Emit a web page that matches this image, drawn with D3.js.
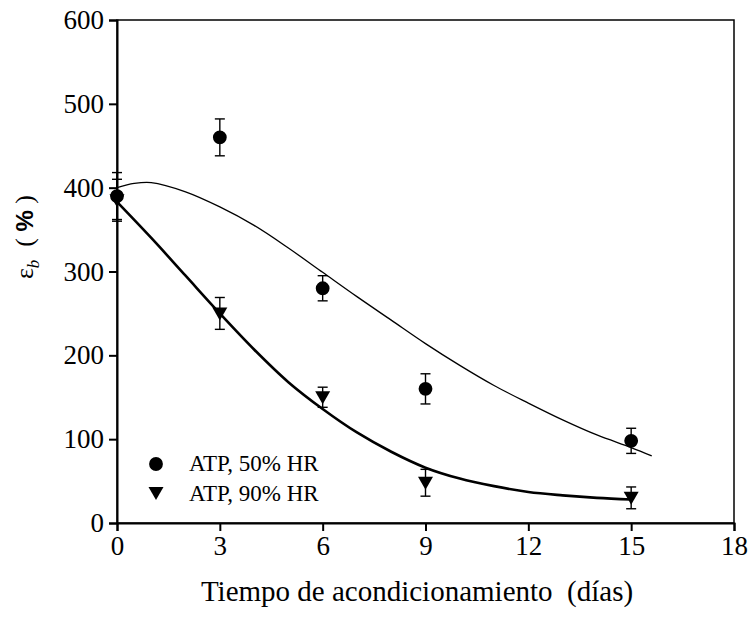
<!DOCTYPE html>
<html>
<head>
<meta charset="utf-8">
<script src="https://cdn.jsdelivr.net/npm/d3@7"></script>
<style>
  body { margin: 0; background: #fff; }
  svg text { font-family: "Liberation Serif", "DejaVu Serif", serif; }
</style>
</head>
<body>
<script>
// Datos
const dias = [0, 3, 6, 9, 15];
const hr50 = [390, 460, 280, 160, 98];
const hr50err = [28, 22, 15, 18, 15];
const hr90 = [385, 250, 150, 48, 30];
const hr90err = [25, 19, 12, 16, 13];

// curvas de ajuste (puntos leídos)
const ajuste50x = [0, 0.5, 1, 2, 3, 4, 5, 6, 7, 8, 9, 10, 11, 12, 13, 14, 15, 15.6];
const ajuste50y = [400, 405, 406, 395, 377, 355, 328, 299, 270, 242, 214, 188, 164, 143, 123, 105, 90, 80];
const ajuste90x = [0, 1, 2, 3, 4, 5, 6, 7, 8, 9, 10, 11, 12, 13, 14, 15];
const ajuste90y = [383, 340, 295, 250, 207, 168, 136, 108, 85, 66, 53, 44, 37, 33, 30, 28];

const xTicks = [0, 3, 6, 9, 12, 15, 18];
const yTicks = [0, 100, 200, 300, 400, 500, 600];
const leyenda = ["ATP, 50% HR", "ATP, 90% HR"];

const width = 752, height = 619;
const margin = {top: 20, right: 18, bottom: 96, left: 117};
const serif = "'Liberation Serif', 'DejaVu Serif', serif";

const svg = d3.select("body").append("svg")
    .attr("width", width).attr("height", height);

const x = d3.scaleLinear().domain([0, 18]).range([margin.left, width - margin.right]);
const y = d3.scaleLinear().domain([0, 600]).range([height - margin.bottom, margin.top]);

// marco
svg.append("rect")
    .attr("x", x(0)).attr("y", y(600))
    .attr("width", x(18) - x(0)).attr("height", y(0) - y(600))
    .attr("fill", "none").attr("stroke", "#000").attr("stroke-width", 1.5);

const xAxis = svg.append("g")
    .attr("transform", "translate(0," + y(0) + ")")
    .call(d3.axisBottom(x).tickValues(xTicks).tickSize(8).tickPadding(5));
const yAxis = svg.append("g")
    .attr("transform", "translate(" + x(0) + ",0)")
    .call(d3.axisLeft(y).tickValues(yTicks).tickSize(8).tickPadding(5));

[xAxis, yAxis].forEach(a => {
    a.attr("font-family", serif).attr("font-size", 27);
    a.select(".domain").attr("stroke-width", 2);
    a.selectAll(".tick line").attr("stroke-width", 2);
    a.selectAll("text")
        .attr("font-family", serif).attr("font-size", 27)
        .attr("fill", "#000");
});

// curvas
const linea = d3.line().x(d => x(d[0])).y(d => y(d[1])).curve(d3.curveCatmullRom);
svg.append("path")
    .attr("d", linea(d3.zip(ajuste50x, ajuste50y)))
    .attr("fill", "none").attr("stroke", "#000").attr("stroke-width", 1.3);
svg.append("path")
    .attr("d", linea(d3.zip(ajuste90x, ajuste90y)))
    .attr("fill", "none").attr("stroke", "#000").attr("stroke-width", 2.6);

// barras de error
function errores(vals, errs) {
    const g = svg.append("g").attr("stroke", "#000").attr("stroke-width", 1.4);
    dias.forEach((d, i) => {
        const cx = x(d);
        g.append("line").attr("x1", cx).attr("x2", cx)
            .attr("y1", y(vals[i] - errs[i])).attr("y2", y(vals[i] + errs[i]));
        [vals[i] - errs[i], vals[i] + errs[i]].forEach(v => {
            g.append("line").attr("x1", cx - 5).attr("x2", cx + 5)
                .attr("y1", y(v)).attr("y2", y(v));
        });
    });
}
errores(hr50, hr50err);
errores(hr90, hr90err);

const circulo = d3.symbol().type(d3.symbolCircle).size(150);
const triangulo = "M-7.5,-6 L7.5,-6 L0,7 Z";

svg.append("g").selectAll("path")
    .data(dias).join("path")
    .attr("d", circulo)
    .attr("transform", (d, i) => "translate(" + x(d) + "," + y(hr50[i]) + ")")
    .attr("fill", "#000");

svg.append("g").selectAll("path")
    .data(dias).join("path")
    .attr("d", triangulo)
    .attr("transform", (d, i) => "translate(" + x(d) + "," + y(hr90[i]) + ")")
    .attr("fill", "#000");

// leyenda
const ley = svg.append("g");
ley.append("path").attr("d", circulo).attr("transform", "translate(156,464)").attr("fill", "#000");
ley.append("path").attr("d", triangulo).attr("transform", "translate(156,493)").attr("fill", "#000");
leyenda.forEach((t, i) => {
    ley.append("text").attr("x", 189).attr("y", 471 + i * 30)
        .attr("font-size", 23)
        .text(t);
});

// títulos
svg.append("text")
    .attr("x", 417).attr("y", 601)
    .attr("text-anchor", "middle")
    .attr("font-size", 29)
    .text("Tiempo de acondicionamiento\u00a0 (días)");

const yl = svg.append("text")
    .attr("transform", "translate(33,237) rotate(-90)")
    .attr("text-anchor", "middle")
    .attr("font-size", 26);
yl.append("tspan").text("ε");
yl.append("tspan").attr("dy", 6).attr("font-size", 17).attr("font-style", "italic").text("b");
yl.append("tspan").attr("dy", -6).text("\u00a0 (\u00a0");
yl.append("tspan").attr("font-family", "'Liberation Sans', sans-serif").attr("font-weight", "bold").attr("font-size", 24).text("%");
yl.append("tspan").text("\u00a0)");
</script>
</body>
</html>
